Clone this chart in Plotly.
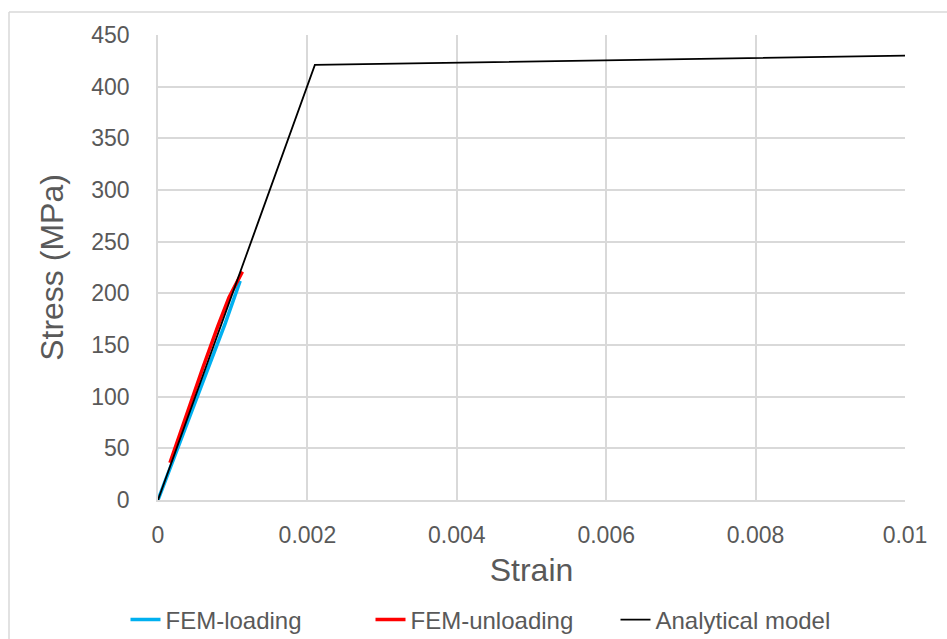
import plotly.graph_objects as go

load_strain = [0.0, 0.0003, 0.0006, 0.0009, 0.0011]
load_stress = [0.0, 56, 114, 171, 212]
unload_strain = [0.00016, 0.0004, 0.0006, 0.0008, 0.00095, 0.00113]
unload_stress = [36, 87, 128, 168, 196, 221]
ana_strain = [0.0, 0.0021, 0.01]
ana_stress = [0.0, 421, 430]

font = "Liberation Sans"
grey = "#595959"
L, R, T, B = 158, 42, 35, 139
W, H = 947, 639
pw, ph = W - L - R, H - T - B


def px(x):
    return (x - L) / pw


def py(y):
    return (H - B - y) / ph


fig = go.Figure()
fig.add_trace(go.Scatter(x=load_strain, y=load_stress, mode="lines", name="FEM-loading",
                         line=dict(color="#00b0f0", width=3.5)))
fig.add_trace(go.Scatter(x=unload_strain, y=unload_stress, mode="lines", name="FEM-unloading",
                         line=dict(color="#ff0000", width=3.5)))
fig.add_trace(go.Scatter(x=ana_strain, y=ana_stress, mode="lines", name="Analytical model",
                         line=dict(color="#000000", width=1.8)))

fig.update_layout(
    width=W, height=H,
    margin=dict(l=L, r=R, t=T, b=B, autoexpand=False),
    paper_bgcolor="white", plot_bgcolor="white",
    font=dict(family=font, color=grey, size=23),
    showlegend=True,
    legend=dict(orientation="h", x=px(493), xanchor="center", y=py(620), yanchor="middle",
                font=dict(size=24, color=grey), entrywidth=200, entrywidthmode="pixels"),
    xaxis=dict(range=[0, 0.01], tickvals=[0, 0.002, 0.004, 0.006, 0.008, 0.01],
               ticktext=["0", "0.002", "0.004", "0.006", "0.008", "0.01"],
               showgrid=True, gridcolor="#d9d9d9", gridwidth=1.5, zeroline=False,
               showline=True, linecolor="#d9d9d9", linewidth=1.5, automargin=False,
               ticks="", tickfont=dict(size=23, color=grey), ticklabelstandoff=14,
               title=dict(text="Strain", font=dict(size=32, color=grey), standoff=11)),
    yaxis=dict(range=[0, 450], dtick=50,
               showgrid=True, gridcolor="#d9d9d9", gridwidth=1.5, zeroline=False,
               showline=True, linecolor="#d9d9d9", linewidth=1.5, automargin=False,
               ticks="", tickfont=dict(size=23, color=grey), ticklabelstandoff=22,
               title=dict(text="Stress (MPa)", font=dict(size=32, color=grey), standoff=18)),
    shapes=[
        dict(type="line", xref="paper", yref="paper", x0=px(9), x1=px(947), y0=py(12), y1=py(12),
             line=dict(color="#d9d9d9", width=1.5), layer="below"),
        dict(type="line", xref="paper", yref="paper", x0=px(9), x1=px(9), y0=py(12), y1=py(639),
             line=dict(color="#d9d9d9", width=1.5), layer="below"),
    ],
)

fig.write_html("out.html")
